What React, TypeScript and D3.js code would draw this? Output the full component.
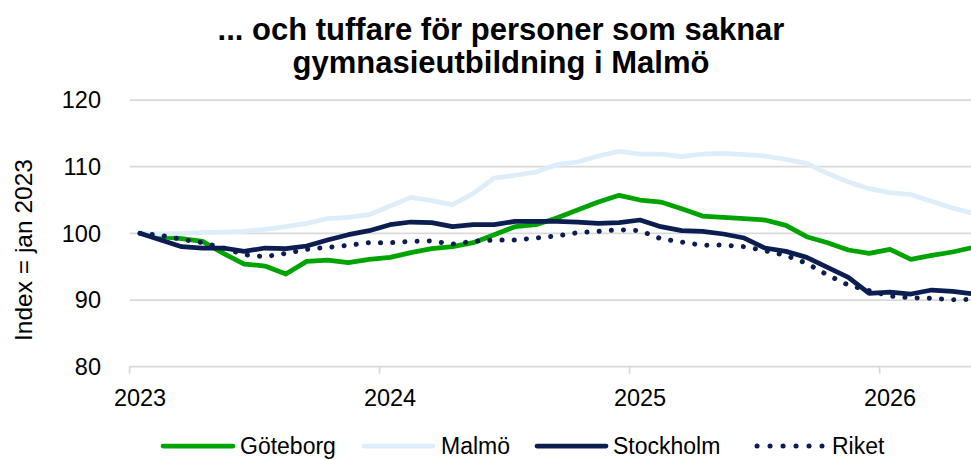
import React from 'react';
import * as d3 from 'd3';

// månadsdata jan 2023 – maj 2026, index jan 2023 = 100
const yearLabels = ['2023', '2024', '2025', '2026'];
const yTicks = [80, 90, 100, 110, 120];

const goteborg = [
  100, 99.5, 99.2, 98.8, 97.0, 95.4, 95.1, 93.9, 95.8, 96.0, 95.6, 96.1,
  96.4, 97.1, 97.7, 98.0, 98.6, 99.8, 101.0, 101.3, 102.3, 103.5, 104.7, 105.7,
  105.0, 104.7, 103.7, 102.6, 102.4, 102.2, 102.0, 101.2, 99.5, 98.6, 97.5, 97.0,
  97.6, 96.1, 96.7, 97.2, 97.9,
];
const malmo = [
  100, 99.9, 100.0, 100.1, 100.2, 100.3, 100.6, 101.0, 101.5, 102.2, 102.4, 102.8,
  104.1, 105.4, 104.9, 104.3, 106.0, 108.3, 108.7, 109.2, 110.3, 110.7, 111.6, 112.3,
  111.9, 111.9, 111.5, 111.9, 112.0, 111.8, 111.6, 111.1, 110.5, 109.0, 107.7, 106.7,
  106.1, 105.8, 104.8, 103.8, 103.0,
];
const stockholm = [
  100, 99.0, 98.0, 97.8, 97.8, 97.3, 97.8, 97.7, 98.1, 99.0, 99.8, 100.4,
  101.3, 101.7, 101.6, 101.0, 101.3, 101.3, 101.8, 101.8, 101.8, 101.7, 101.5, 101.6,
  102.0, 101.0, 100.4, 100.3, 99.9, 99.3, 97.8, 97.3, 96.4, 94.9, 93.4, 91.0,
  91.2, 90.9, 91.5, 91.3, 90.9,
];
const riket = [
  100, 99.7, 99.1, 98.6, 97.8, 96.8, 96.5, 97.0, 97.6, 97.9, 98.2, 98.6,
  98.6, 98.8, 98.85, 98.4, 98.8, 99.0, 99.0, 99.3, 99.6, 100.1, 100.3, 100.55,
  100.4, 99.2, 98.7, 98.2, 98.25, 98.0, 97.4, 96.7, 95.5, 93.75, 92.25, 91.4,
  90.6, 90.35, 90.25, 90.05, 90.1,
];

const series = [
  { name: 'Göteborg', values: goteborg, color: '#00A300', dotted: false },
  { name: 'Malmö', values: malmo, color: '#DDEEFA', dotted: false },
  { name: 'Stockholm', values: stockholm, color: '#0B1D51', dotted: false },
  { name: 'Riket', values: riket, color: '#0B1D51', dotted: true },
];

const W = 971;
const H = 460;
const font = 'Liberation Sans, Arial, sans-serif';

export default function App() {
  const monthW = 250 / 12;
  const x = d3.scaleLinear().domain([-0.5, 40.5]).range([129.6, 129.6 + 41 * monthW]);
  const y = d3.scaleLinear().domain([80, 120]).range([366.7, 100]);

  const line = d3.line<number>()
    .x((_, i) => x(i))
    .y(d => y(d));

  const yearTicks = yearLabels.map((lab, k) => ({ lab, i: k * 12 }));

  const legendItems = [
    { s: series[0], x0: 163, x1: 233, tx: 240 },
    { s: series[1], x0: 364, x1: 433, tx: 441 },
    { s: series[2], x0: 537, x1: 606, tx: 613 },
    { s: series[3], x0: 757, x1: 822, tx: 832 },
  ];
  const legendY = 446;

  return (
    <svg width={W} height={H} style={{ position: 'absolute', left: 0, top: 0, background: '#fff' }}
      fontFamily={font}>
      <text x={501} y={40} textAnchor="middle" fontSize={31} fontWeight="bold" fill="#000">
        ... och tuffare för personer som saknar
      </text>
      <text x={501} y={73} textAnchor="middle" fontSize={31} fontWeight="bold" fill="#000">
        gymnasieutbildning i Malmö
      </text>

      {/* gridlines */}
      {yTicks.map(t => (
        <g key={t}>
          <line x1={x(-0.5)} x2={W} y1={y(t)} y2={y(t)} stroke="#D9D9D9" strokeWidth={1.75} />
          <text x={101} y={y(t)} dy="0.35em" textAnchor="end" fontSize={23.5} fill="#000">{t}</text>
        </g>
      ))}

      {/* x axis ticks + labels */}
      {yearTicks.map(t => (
        <g key={t.lab}>
          <line x1={x(t.i - 0.5)} x2={x(t.i - 0.5)} y1={y(80)} y2={y(80) + 7} stroke="#D9D9D9" strokeWidth={1.75} />
          <text x={x(t.i)} y={398} dy="0.35em" textAnchor="middle" fontSize={23.5} fill="#000">{t.lab}</text>
        </g>
      ))}

      <text transform={`translate(23,250) rotate(-90)`} textAnchor="middle" dy="0.35em" fontSize={24.5} fill="#000">
        Index = jan 2023
      </text>

      {series.map(s => (
        <path key={s.name} d={line(s.values) || ''} fill="none" stroke={s.color}
          strokeWidth={s.dotted ? 5 : 4.75}
          strokeLinejoin="round"
          strokeLinecap="round"
          strokeDasharray={s.dotted ? '0.1 12.1' : undefined} />
      ))}

      {/* legend */}
      {legendItems.map(({ s, x0, x1, tx }) => (
        <g key={s.name}>
          <line x1={x0} x2={x1} y1={legendY} y2={legendY} stroke={s.color}
            strokeWidth={s.dotted ? 5 : 4.75} strokeLinecap="round"
            strokeDasharray={s.dotted ? '0.1 12.9' : undefined} />
          <text x={tx} y={legendY} dy="0.35em" fontSize={23} fill="#000">{s.name}</text>
        </g>
      ))}
    </svg>
  );
}
